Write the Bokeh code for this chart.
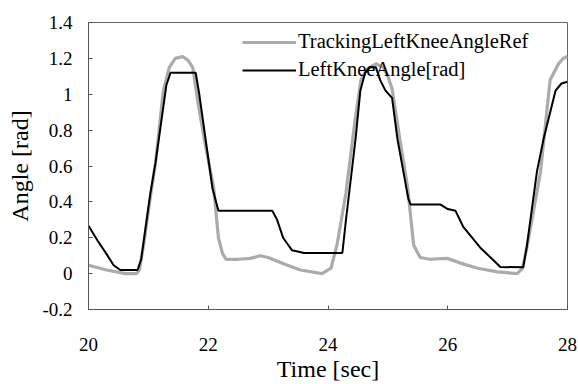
from bokeh.plotting import figure
from bokeh.models import Legend, LegendItem, FixedTicker, Range1d
from bokeh.embed import file_html
from bokeh.resources import INLINE

# Reference (tracking) knee angle [rad]
ref_t = [20.0, 20.3, 20.62, 20.8, 20.85, 20.92, 21.03, 21.12, 21.25, 21.35, 21.45, 21.57,
         21.66, 21.74, 21.84, 21.95, 22.09, 22.17, 22.24, 22.3, 22.5, 22.7, 22.87, 23.0,
         23.3, 23.54, 23.9, 24.05, 24.15, 24.3, 24.45, 24.55, 24.65, 24.8, 24.92, 25.0,
         25.07, 25.2, 25.33, 25.43, 25.54, 25.7, 25.99, 26.2, 26.5, 26.83, 27.16, 27.25,
         27.33, 27.55, 27.71, 27.85, 27.93, 28.0]
ref_v = [0.047, 0.02, 0.0, 0.0, 0.02, 0.16, 0.42, 0.62, 1.02, 1.15, 1.2, 1.21,
         1.19, 1.15, 0.93, 0.72, 0.48, 0.2, 0.11, 0.08, 0.08, 0.085, 0.1, 0.09,
         0.05, 0.02, 0.0, 0.03, 0.16, 0.45, 0.85, 1.08, 1.14, 1.17, 1.15, 1.1,
         1.03, 0.75, 0.48, 0.16, 0.09, 0.08, 0.085, 0.06, 0.03, 0.01, 0.0, 0.03,
         0.16, 0.57, 1.08, 1.17, 1.2, 1.21]

# Measured knee angle [rad]
act_t = [20.0, 20.15, 20.3, 20.42, 20.53, 20.82, 20.88, 21.03, 21.12, 21.3, 21.37, 21.79,
         21.85, 22.07, 22.17, 23.07, 23.15, 23.25, 23.4, 23.6, 24.24, 24.3, 24.46, 24.54,
         24.62, 24.7, 24.8, 24.87, 24.96, 25.07, 25.16, 25.34, 25.38, 25.88, 26.0, 26.13,
         26.26, 26.54, 26.88, 27.26, 27.32, 27.49, 27.6, 27.8, 27.9, 28.0]
act_v = [0.267, 0.185, 0.11, 0.047, 0.02, 0.02, 0.08, 0.44, 0.62, 1.05, 1.12, 1.12,
         1.0, 0.476, 0.35, 0.35, 0.3, 0.2, 0.13, 0.115, 0.115, 0.3, 0.75, 1.02,
         1.12, 1.15, 1.15, 1.08, 1.02, 0.98, 0.75, 0.42, 0.385, 0.385, 0.36, 0.35,
         0.26, 0.146, 0.037, 0.035, 0.15, 0.57, 0.75, 1.02, 1.06, 1.07]

x_ticks = [20, 22, 24, 26, 28]
y_ticks = [-0.2, 0, 0.2, 0.4, 0.6, 0.8, 1.0, 1.2, 1.4]
y_labels = {-0.2: "-0.2", 0: "0", 0.2: "0.2", 0.4: "0.4", 0.6: "0.6", 0.8: "0.8",
            1.0: "1", 1.2: "1.2", 1.4: "1.4"}

FONT = "Liberation Serif"

p = figure(width=578, height=384, output_backend="svg", toolbar_location=None,
           x_range=Range1d(20, 28), y_range=Range1d(-0.2, 1.4),
           min_border_left=88, min_border_right=11, min_border_top=22, min_border_bottom=71)

p.xgrid.visible = False
p.ygrid.visible = False
p.outline_line_color = "#666666"
p.outline_line_width = 1
p.background_fill_color = "white"
p.border_fill_color = "white"

r_ref = p.line(ref_t, ref_v, line_color="#ababab", line_width=3.2)
r_act = p.line(act_t, act_v, line_color="black", line_width=2)

for ax in (p.xaxis[0], p.yaxis[0]):
    ax.axis_line_color = "#555555"
    ax.major_tick_line_color = "#555555"
    ax.major_tick_in = 4
    ax.major_tick_out = 0
    ax.minor_tick_in = 0
    ax.minor_tick_out = 0
    ax.major_label_text_font = FONT
    ax.major_label_text_font_size = "19px"
    ax.major_label_text_color = "black"
    ax.axis_label_text_font = FONT
    ax.axis_label_text_font_size = "24px"
    ax.axis_label_text_font_style = "normal"
    ax.axis_label_text_color = "black"

p.xaxis.ticker = FixedTicker(ticks=x_ticks)
p.yaxis.ticker = FixedTicker(ticks=y_ticks)
p.yaxis.major_label_overrides = y_labels
p.xaxis.major_label_standoff = 28
p.yaxis.major_label_standoff = 16
p.xaxis.axis_label = "Time [sec]"
p.yaxis.axis_label = "Angle [rad]"
p.xaxis.axis_label_standoff = 2
p.yaxis.axis_label_standoff = 6

legend = Legend(items=[LegendItem(label="TrackingLeftKneeAngleRef", renderers=[r_ref]),
                       LegendItem(label="LeftKneeAngle[rad]", renderers=[r_act])],
                location=(154, 228), orientation="vertical",
                background_fill_alpha=0, border_line_alpha=0,
                padding=0, margin=0, spacing=5,
                glyph_width=54, glyph_height=20, label_standoff=2,
                label_text_font=FONT, label_text_font_size="20.5px",
                label_text_color="black")
p.add_layout(legend)

open("out.html", "w").write(file_html(p, INLINE))
